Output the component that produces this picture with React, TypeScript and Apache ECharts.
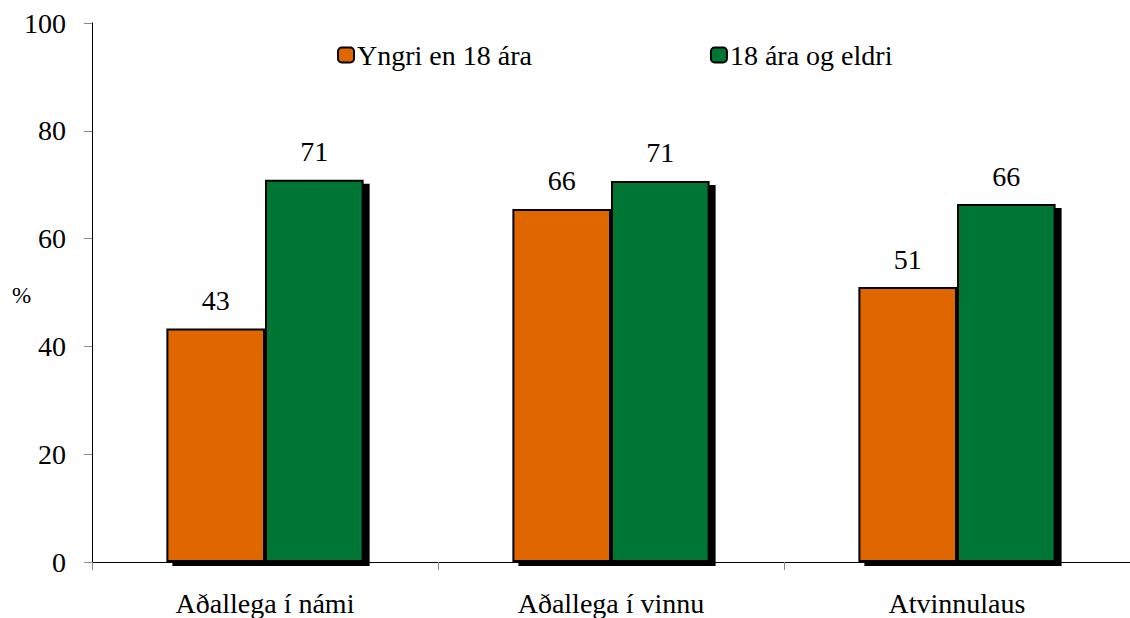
import React, { useEffect, useRef } from "react";
import * as echarts from "echarts";

const categories = ["Aðallega í námi", "Aðallega í vinnu", "Atvinnulaus"];
const seriesNames = ["Yngri en 18 ára", "18 ára og eldri"];
const under18 = [43.3, 65.5, 51.0];
const over18 = [70.9, 70.7, 66.4];
const yTicks = [0, 20, 40, 60, 80, 100];

export default function App() {
  const ref = useRef<HTMLDivElement>(null);
  useEffect(() => {
    const chart = echarts.init(ref.current!, null, { renderer: "svg" });
    const font = "Liberation Serif";
    const barStyle = (color: string) => ({
      color,
      borderColor: "#000",
      borderWidth: 2,
      shadowColor: "#000",
      shadowBlur: 0,
      shadowOffsetX: 6,
      shadowOffsetY: 4,
    });
    const label = {
      show: true,
      position: "top" as const,
      distance: 14,
      color: "#000",
      fontFamily: font,
      fontSize: 28,
      formatter: (p: any) => String(Math.round(p.value)),
    };
    chart.setOption({
      animation: false,
      textStyle: { fontFamily: font },
      legend: {
        left: 332,
        top: 36,
        itemWidth: 16,
        itemHeight: 15,
        itemGap: 178,
        textStyle: { fontFamily: font, fontSize: 28, color: "#000", padding: [0, 0, 0, -2] },
        data: seriesNames.map((n) => ({ name: n, itemStyle: { borderColor: "#000", borderWidth: 2 } })),
      },
      grid: { left: 92, top: 23, right: -6, bottom: 56, containLabel: false },
      graphic: [
        {
          type: "text",
          left: 12,
          top: 284,
          style: { text: "%", fontFamily: font, fontSize: 23, fill: "#000" },
        },
      ],
      xAxis: {
        type: "category",
        data: categories,
        axisLine: { lineStyle: { color: "#000", width: 1 } },
        axisTick: { show: true, length: 8, lineStyle: { color: "#888" } },
        axisLabel: { color: "#000", fontFamily: font, fontSize: 28, margin: 27 },
      },
      yAxis: {
        type: "value",
        min: yTicks[0],
        max: yTicks[yTicks.length - 1],
        interval: 20,
        splitLine: { show: false },
        axisLine: { show: true, lineStyle: { color: "#000", width: 1 } },
        axisTick: { show: true, length: 8, lineStyle: { color: "#888" } },
        axisLabel: { color: "#000", fontFamily: font, fontSize: 28, margin: 26 },
      },
      series: [
        {
          name: seriesNames[0],
          type: "bar",
          data: under18,
          barGap: "0%",
          barCategoryGap: "43%",
          itemStyle: barStyle("#E06600"),
          label,
        },
        {
          name: seriesNames[1],
          type: "bar",
          data: over18,
          barGap: "0%",
          barCategoryGap: "43%",
          itemStyle: barStyle("#007635"),
          label,
        },
      ],
    });
    return () => chart.dispose();
  }, []);
  return (
    <div
      ref={ref}
      style={{ position: "fixed", left: 0, top: 0, width: 1130, height: 618, background: "#fff" }}
    />
  );
}
